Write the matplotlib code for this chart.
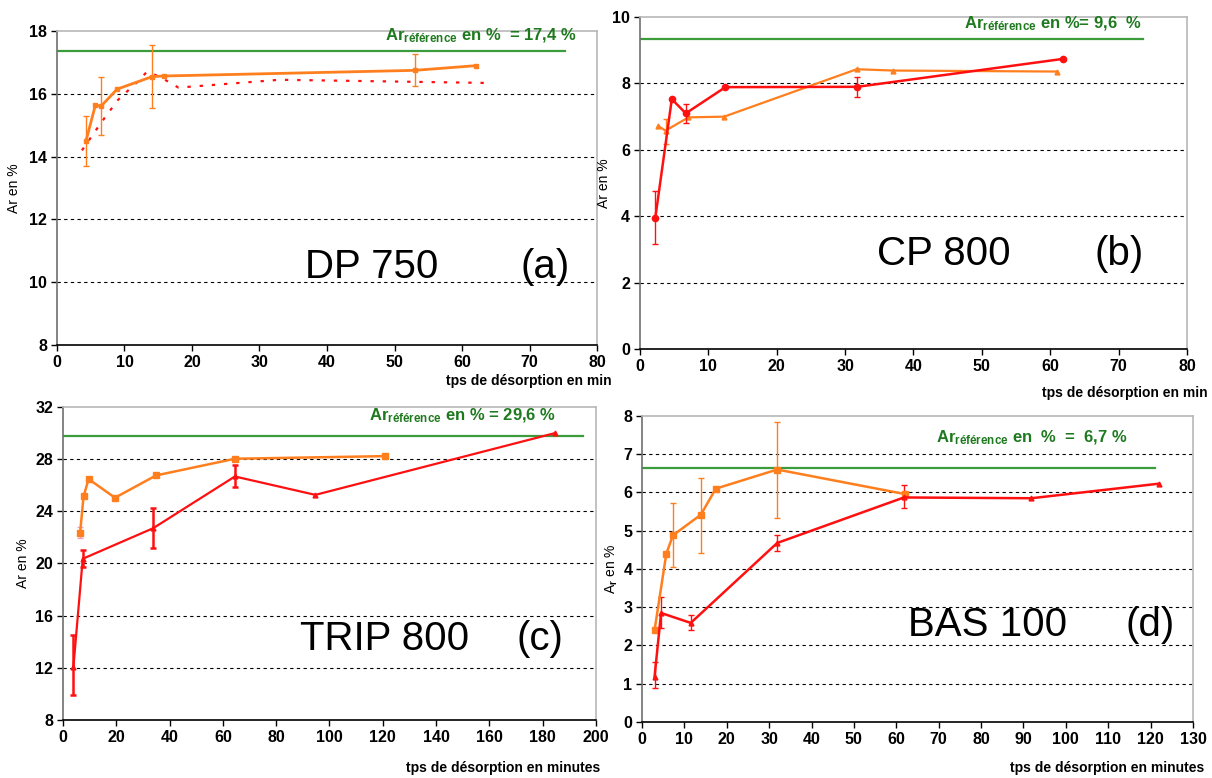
import matplotlib
matplotlib.use("Agg")
import matplotlib.pyplot as plt
import numpy as np

plt.rcParams["font.family"] = ["Liberation Sans", "DejaVu Sans"]
plt.rcParams["mathtext.fontset"] = "custom"
plt.rcParams["mathtext.rm"] = "Liberation Sans:bold"
plt.rcParams["mathtext.it"] = "Liberation Sans:bold"

ORANGE = "#ff7f1e"
RED = "#ff1010"
GREEN_LINE = "#3c9c3c"
GREEN_TXT = "#1f7a1f"

# ---- (a) DP 750
a_or_x = [4.3, 5.7, 6.5, 8.9, 14.1, 15.9, 53.0, 62.1]
a_or_y = [14.5, 15.65, 15.6, 16.15, 16.55, 16.57, 16.75, 16.9]
a_or_ex = [4.3, 6.5, 14.1, 53.0]
a_or_lo = [13.7, 14.7, 15.56, 16.25]
a_or_hi = [15.3, 16.55, 17.55, 17.26]
a_rd_x = [3.7, 6.6, 9.0, 12.0, 13.3, 14.6, 16.0, 18.0, 33.0, 63.3]
a_rd_y = [14.2, 15.1, 15.8, 16.4, 16.7, 16.6, 16.45, 16.2, 16.45, 16.35]
a_ref, a_ref_end = 17.37, 75.2

# ---- (b) CP 800
b_rd_x = [2.24, 4.66, 6.7, 12.5, 31.8, 61.8]
b_rd_y = [3.94, 7.53, 7.1, 7.89, 7.9, 8.74]
b_rd_ex = [2.24, 6.7, 31.8]
b_rd_lo = [3.16, 6.8, 7.59]
b_rd_hi = [4.76, 7.38, 8.2]
b_or_x = [2.65, 3.74, 7.1, 12.3, 31.7, 37.0, 61.0]
b_or_y = [6.72, 6.58, 6.98, 7.0, 8.43, 8.39, 8.36]
b_or_ex = [3.74]
b_or_lo = [6.18]
b_or_hi = [6.93]
b_ref, b_ref_end = 9.34, 73.6

# ---- (c) TRIP 800
c_or_x = [6.4, 7.7, 9.6, 19.5, 34.9, 64.5, 120.8]
c_or_y = [22.32, 25.14, 26.47, 25.04, 26.75, 28.03, 28.23]
c_or_ex = [6.4]
c_or_lo = [21.95]
c_or_hi = [22.8]
c_rd_x = [3.9, 7.4, 33.8, 64.5, 94.7, 184.5]
c_rd_y = [12.07, 20.36, 22.7, 26.67, 25.26, 29.99]
c_rd_ex = [3.9, 7.4, 33.8, 64.5]
c_rd_lo = [9.88, 19.76, 21.19, 25.84]
c_rd_hi = [14.53, 21.0, 24.28, 27.55]
c_ref, c_ref_end = 29.79, 195.3

# ---- (d) BAS 100
d_or_x = [2.96, 5.74, 7.3, 13.9, 17.4, 31.9, 62.0]
d_or_y = [2.4, 4.4, 4.88, 5.42, 6.1, 6.6, 5.96]
d_or_ex = [7.3, 13.9, 31.9]
d_or_lo = [4.04, 4.43, 5.34]
d_or_hi = [5.73, 6.37, 7.83]
d_rd_x = [2.96, 4.5, 11.5, 31.9, 61.8, 91.9, 121.9]
d_rd_y = [1.18, 2.85, 2.59, 4.68, 5.87, 5.85, 6.23]
d_rd_ex = [2.96, 4.5, 11.5, 31.9, 61.8]
d_rd_lo = [0.88, 2.45, 2.4, 4.48, 5.6]
d_rd_hi = [1.56, 3.27, 2.79, 4.88, 6.2]
d_ref, d_ref_end = 6.63, 121.0


def errbars(ax, xs, lo, hi, color, lw=1.0):
    xs = np.array(xs)
    lo = np.array(lo)
    hi = np.array(hi)
    mid = (lo + hi) / 2
    ax.errorbar(xs, mid, yerr=[mid - lo, hi - mid], fmt="none",
                ecolor=color, elinewidth=lw, capsize=2.5, capthick=lw, zorder=4)


def setup(ax, xmax, xstep, ymin, ymax, ystep):
    ax.set_xlim(0, xmax)
    ax.set_ylim(ymin, ymax)
    ax.set_xticks(np.arange(0, xmax + 0.1, xstep))
    yt = np.arange(ymin, ymax + 0.01, ystep)
    ax.set_yticks(yt)
    for y in yt[1:-1]:
        ax.axhline(y, color="black", lw=0.8, ls=(0, (3, 3)), zorder=1)
    ax.spines["top"].set_color("#b8b8b8")
    ax.spines["right"].set_color("#b8b8b8")
    ax.spines["left"].set_color("#707070")
    ax.spines["bottom"].set_color("black")
    for s in ax.spines.values():
        s.set_linewidth(1.2)
    ax.tick_params(axis="both", length=4, width=1, labelsize=11.5, pad=3)
    for lab in ax.get_xticklabels() + ax.get_yticklabels():
        lab.set_fontweight("bold")


def ref_line(ax, y, xend, txt, tx, ty):
    ax.plot([0, xend], [y, y], color=GREEN_LINE, lw=1.6, zorder=2)
    ax.text(tx, ty, txt, color=GREEN_TXT, fontsize=12, fontweight="bold",
            va="center", ha="left", zorder=6)


fig = plt.figure(figsize=(12.12, 7.78), dpi=100)
ax_a = fig.add_axes([0.047, 0.5566, 0.4456, 0.4034])
ax_b = fig.add_axes([0.528, 0.5514, 0.4514, 0.4266])
ax_c = fig.add_axes([0.052, 0.0746, 0.4397, 0.4023])
ax_d = fig.add_axes([0.5297, 0.072, 0.4546, 0.3933])

# (a)
setup(ax_a, 80, 10, 8, 18, 2)
ref_line(ax_a, a_ref, a_ref_end, r"$\mathrm{Ar}_{\mathrm{référence}}$ en %  = 17,4 %", 48.6, 17.85)
ax_a.plot(a_rd_x, a_rd_y, color=RED, lw=1.6, ls=(0, (1.5, 4)), zorder=3)
errbars(ax_a, a_or_ex, a_or_lo, a_or_hi, ORANGE)
ax_a.plot(a_or_x, a_or_y, color=ORANGE, lw=2, marker="s", ms=3, zorder=5)
ax_a.text(36.7, 10.12, "DP 750", fontsize=29, va="baseline")
ax_a.text(68.6, 10.12, "(a)", fontsize=29, va="baseline")
ax_a.set_ylabel("Ar en %", fontsize=10, labelpad=6)

# (b)
setup(ax_b, 80, 10, 0, 10, 2)
ref_line(ax_b, b_ref, b_ref_end, r"$\mathrm{Ar}_{\mathrm{référence}}$ en %= 9,6  %", 47.4, 9.8)
errbars(ax_b, b_or_ex, b_or_lo, b_or_hi, ORANGE)
ax_b.plot(b_or_x, b_or_y, color=ORANGE, lw=1.6, marker="^", ms=3.5, zorder=4)
errbars(ax_b, b_rd_ex, b_rd_lo, b_rd_hi, RED)
ax_b.plot(b_rd_x, b_rd_y, color=RED, lw=1.8, marker="o", ms=4.5, zorder=5)
ax_b.text(34.7, 2.53, "CP 800", fontsize=29, va="baseline")
ax_b.text(66.4, 2.53, "(b)", fontsize=29, va="baseline")
ax_b.set_ylabel("Ar en %", fontsize=10, labelpad=1)

# (c)
setup(ax_c, 200, 20, 8, 32, 4)
ref_line(ax_c, c_ref, c_ref_end, r"$\mathrm{Ar}_{\mathrm{référence}}$ en % = 29,6 %", 115, 31.35)
errbars(ax_c, c_or_ex, c_or_lo, c_or_hi, "#f4a0c0")
ax_c.plot(c_or_x, c_or_y, color=ORANGE, lw=1.8, marker="s", ms=4, zorder=5)
errbars(ax_c, c_rd_ex, c_rd_lo, c_rd_hi, RED, lw=1.8)
ax_c.plot(c_rd_x, c_rd_y, color=RED, lw=1.6, marker="^", ms=3.5, zorder=5)
ax_c.text(88.9, 13.4, "TRIP 800", fontsize=29, va="baseline")
ax_c.text(170.2, 13.4, "(c)", fontsize=29, va="baseline")
ax_c.set_ylabel("Ar en %", fontsize=10, labelpad=4)

# (d)
setup(ax_d, 130, 10, 0, 8, 1)
ref_line(ax_d, d_ref, d_ref_end, r"$\mathrm{Ar}_{\mathrm{référence}}$ en  %  =  6,7 %", 69.4, 7.42)
errbars(ax_d, d_or_ex, d_or_lo, d_or_hi, ORANGE)
ax_d.plot(d_or_x, d_or_y, color=ORANGE, lw=1.8, marker="s", ms=4, zorder=5)
errbars(ax_d, d_rd_ex, d_rd_lo, d_rd_hi, RED)
ax_d.plot(d_rd_x, d_rd_y, color=RED, lw=1.8, marker="^", ms=3.5, zorder=5)
ax_d.text(62.7, 2.26, "BAS 100", fontsize=29, va="baseline")
ax_d.text(114, 2.26, "(d)", fontsize=29, va="baseline")
ax_d.set_ylabel("A$_r$ en %", fontsize=10, labelpad=2)

# x axis titles, bottom right of each panel
fig.text(612 / 1212, 1 - 381 / 778, "tps de désorption en min", ha="right", va="center",
         fontsize=10, fontweight="bold")
fig.text(1208 / 1212, 1 - 393 / 778, "tps de désorption en min", ha="right", va="center",
         fontsize=10, fontweight="bold")
fig.text(600 / 1212, 1 - 768 / 778, "tps de désorption en minutes", ha="right", va="center",
         fontsize=10, fontweight="bold")
fig.text(1204 / 1212, 1 - 768 / 778, "tps de désorption en minutes", ha="right", va="center",
         fontsize=10, fontweight="bold")

fig.savefig("out.png", dpi=100)
